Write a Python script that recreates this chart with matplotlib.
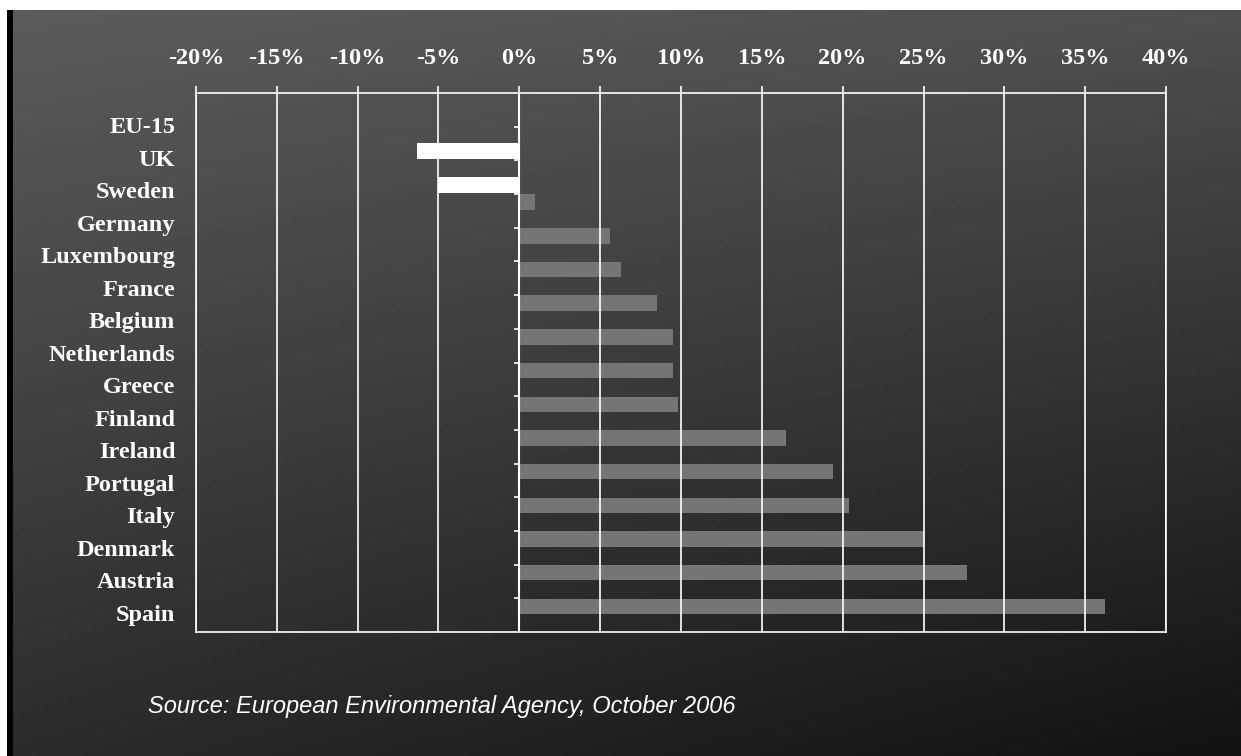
import matplotlib
matplotlib.use("Agg")
from matplotlib import pyplot as plt
import numpy as np

countries = ["EU-15", "UK", "Sweden", "Germany", "Luxembourg", "France", "Belgium",
             "Netherlands", "Greece", "Finland", "Ireland", "Portugal", "Italy",
             "Denmark", "Austria", "Spain"]
change = [0.0, -6.3, -5.0, 1.0, 5.6, 6.3, 8.5, 9.5, 9.5, 9.8, 16.5, 19.4, 20.4,
          25.1, 27.7, 36.2]
ticks = list(range(-20, 45, 5))
source = "Source: European Environmental Agency, October 2006"

W, H = 1241, 756
fig = plt.figure(figsize=(W / 100, H / 100), dpi=100)
fig.patch.set_facecolor("white")

# dark slide background, lighter top-left, almost black bottom-right
bg = fig.add_axes([7 / W, 0, 1 - 7 / W, 1 - 10 / H])
bg.axis("off")
gx, gy = np.meshgrid(np.linspace(0, 1, 200), np.linspace(0, 1, 200))
shade = (0.36 * (1 - gx) * (1 - gy) + 0.31 * gx * (1 - gy)
         + 0.17 * (1 - gx) * gy + 0.07 * gx * gy)
bg.imshow(shade, cmap="gray", vmin=0, vmax=1, aspect="auto", extent=[0, 1, 0, 1])
bg.axvline(0.002, color="black", lw=5)

ax = fig.add_axes([196 / W, 1 - 632 / H, (1166 - 196) / W, (632 - 93) / H])
ax.patch.set_alpha(0)

n = len(countries)
y = np.arange(n)
vals = np.array(change)
neg = vals < 0
pos = ~neg
# two series: reductions in white (lower half of row), increases in grey (upper half)
ax.barh(y[pos] - 0.26, vals[pos], height=0.46, color="#757575", zorder=1)
ax.barh(y[neg] + 0.22, vals[neg], height=0.48, color="white", zorder=1)

ax.set_xlim(-20, 40)
ax.set_ylim(n - 0.5, -0.5)

ax.xaxis.tick_top()
ax.set_xticks(ticks)
ax.set_xticklabels([f"{t}%" for t in ticks])
ax.tick_params(axis="x", colors="white", length=5, width=1.2, pad=12)
ax.grid(axis="x", color="white", lw=1.2, zorder=3)
ax.set_axisbelow(False)

# country names sit on their own even spacing
lab_y = 0.45 + 0.9656 * y
ax.set_yticks(lab_y)
ax.set_yticklabels(countries)
ax.tick_params(axis="y", length=0, pad=15)

for lab in ax.get_xticklabels() + ax.get_yticklabels():
    lab.set_fontfamily("Liberation Serif")
    lab.set_fontweight("bold")
    lab.set_fontsize(17.5)
    lab.set_color("white")

# zero axis with small category ticks
ax.axvline(0, color="white", lw=1.5, zorder=4)
ax.hlines(y[:-1] + 0.5, -0.35, 0, color="white", lw=1.2, zorder=4)

for s in ax.spines.values():
    s.set_color("white")
    s.set_linewidth(1.2)

fig.text(148 / W, 1 - 707 / H, source, color="white", fontsize=17,
         family="Liberation Sans", style="italic", va="center", ha="left")

fig.savefig("out.png", dpi=100, facecolor=fig.get_facecolor())
